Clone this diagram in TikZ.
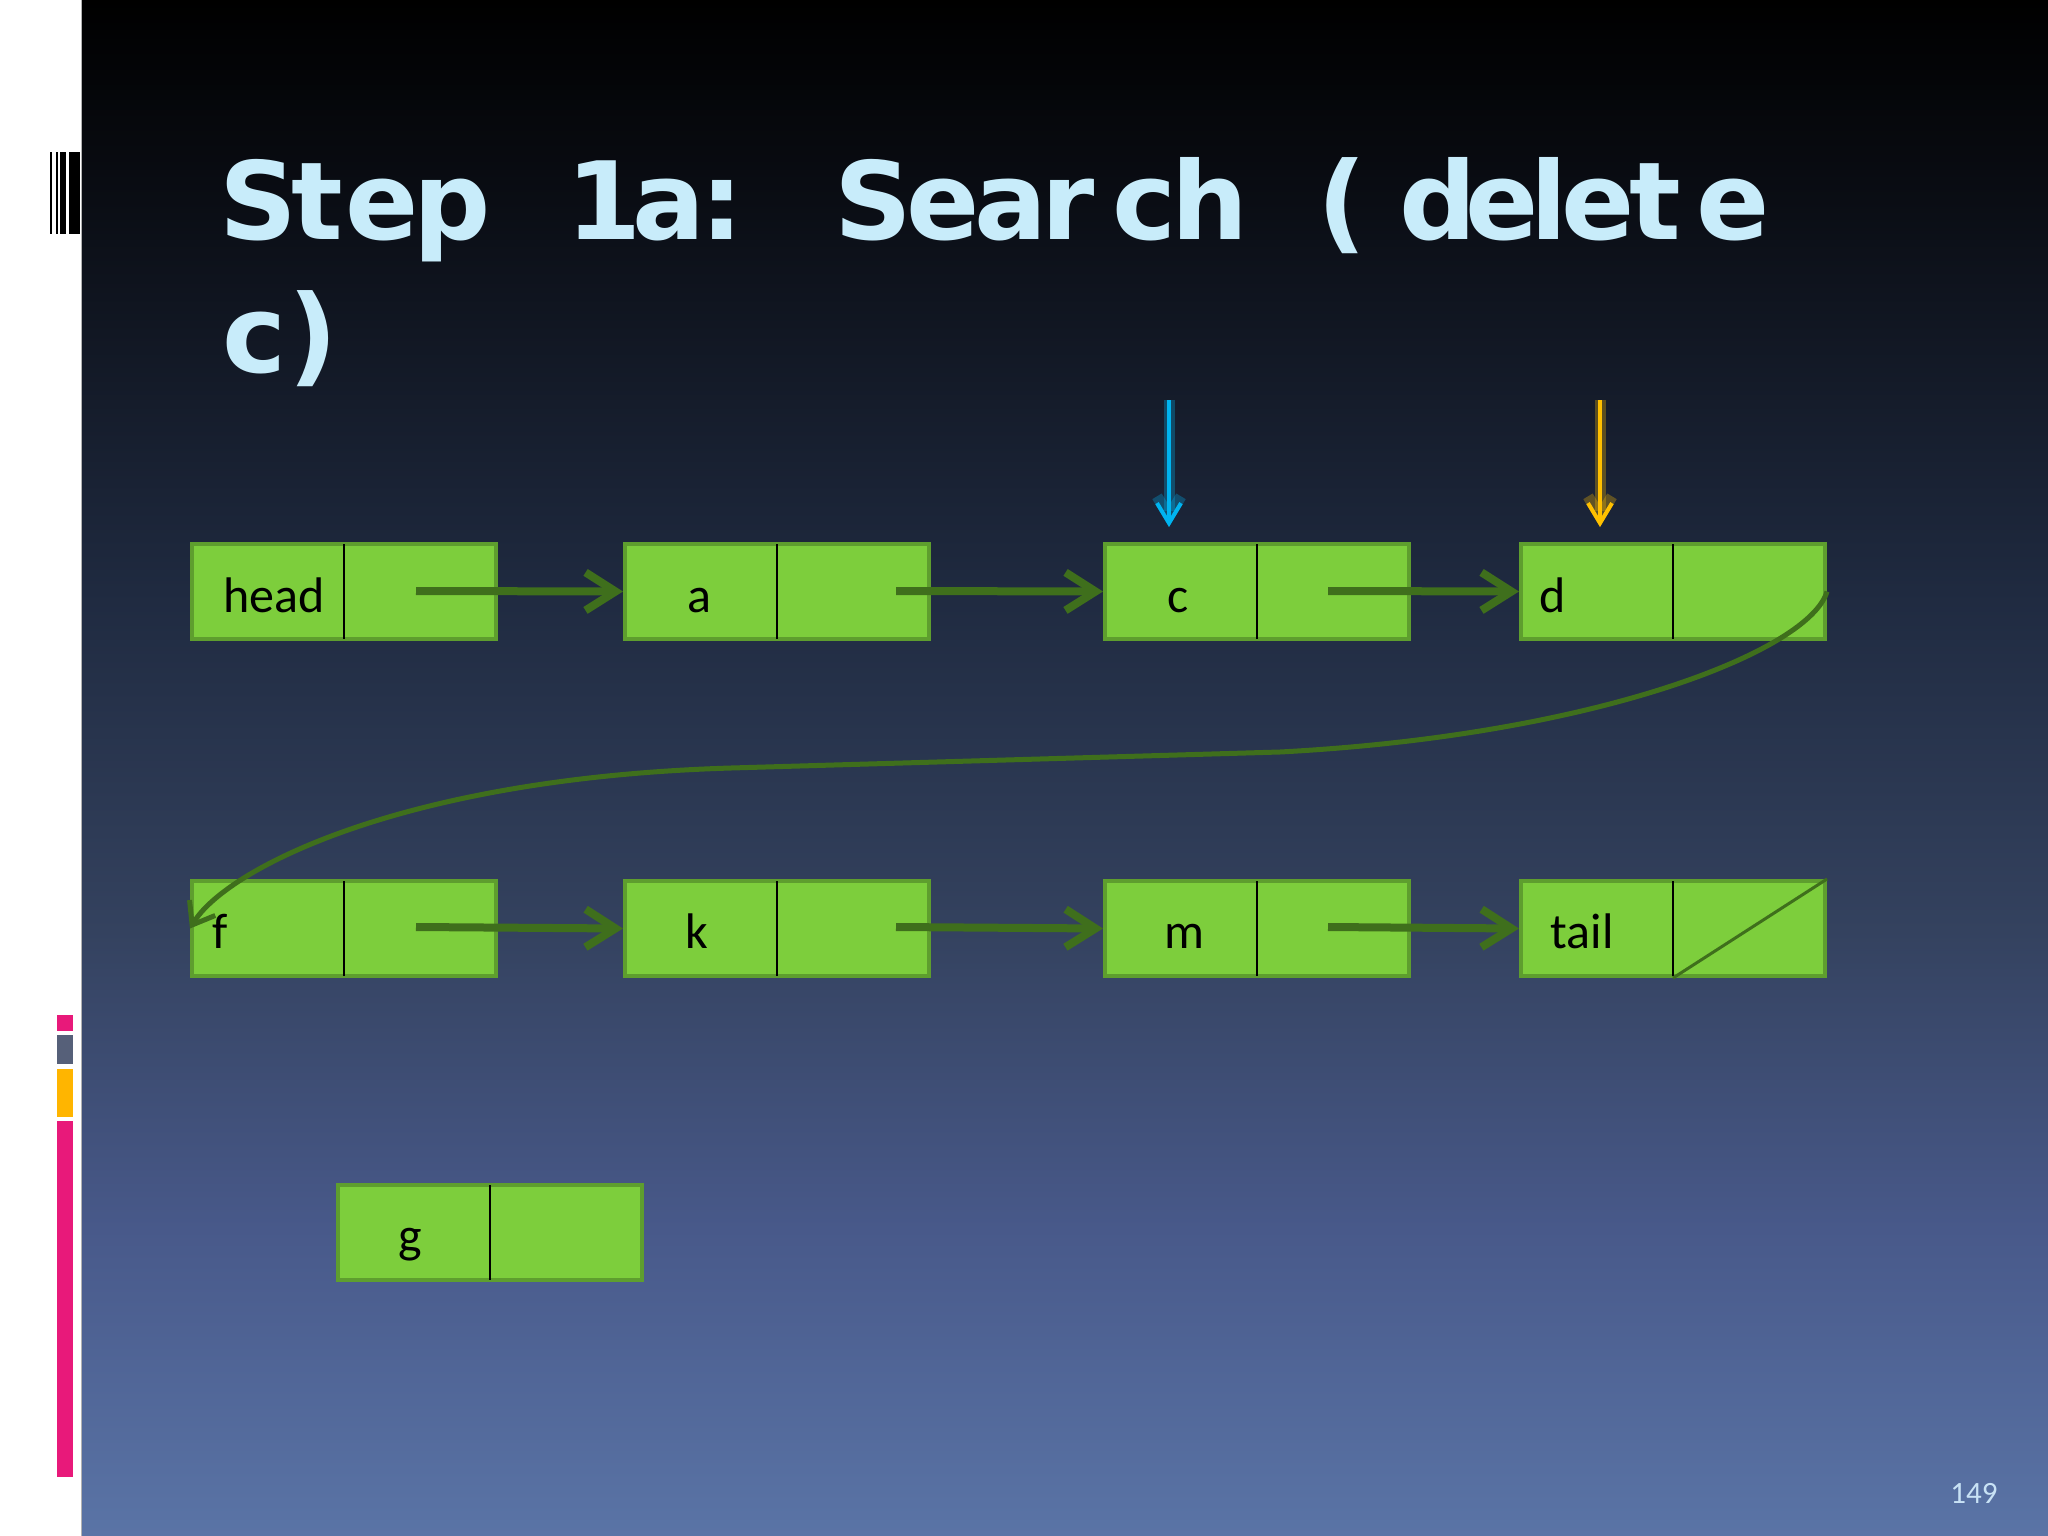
\documentclass[tikz,border=0pt]{standalone}
\usepackage{fontspec}
\usetikzlibrary{arrows.meta}
\newfontfamily\titlefont{DejaVu Sans Bold}[LetterSpace=-5]
\newfontfamily\boxfont{Carlito}
\definecolor{bgA}{HTML}{5A74A6}
\definecolor{bgB}{HTML}{48598A}
\definecolor{bgC}{HTML}{34425F}
\definecolor{bgD}{HTML}{1F2A40}
\definecolor{bgE}{HTML}{0A0D14}
\definecolor{bgF}{HTML}{000000}
\definecolor{boxfill}{HTML}{7DCE3C}
\definecolor{boxline}{HTML}{5E9E2E}
\definecolor{ptrgreen}{HTML}{3F6F1C}
\definecolor{titlecol}{HTML}{C8ECFA}
\definecolor{pagecol}{HTML}{C8E2F5}
\definecolor{cyanptr}{HTML}{00B4F0}
\definecolor{orangeptr}{HTML}{FFC000}
\definecolor{barpink}{HTML}{E8197A}
\definecolor{bargray}{HTML}{566079}
\definecolor{baryellow}{HTML}{FFB500}
\pgfdeclareverticalshading{slidebg}{100bp}{color(0bp)=(bgA); color(25bp)=(bgA); color(35bp)=(bgB); color(44.7bp)=(bgC); color(55.8bp)=(bgD); color(68.5bp)=(bgE); color(75bp)=(bgF); color(100bp)=(bgF)}
\begin{document}
\begin{tikzpicture}[x=1pt,y=-1pt,
  cell/.style={draw=boxline, fill=boxfill, line width=4pt, minimum width=304pt, minimum height=95pt, inner sep=0pt, anchor=north west},
  lbl/.style={font=\boxfont\fontsize{50}{60}\selectfont, text=black, inner sep=0pt, anchor=base},
  divider/.style={draw=black, line width=2.5pt, shorten <=2pt, shorten >=2pt},
  ptr/.style={draw=ptrgreen, line width=8pt, -{Straight Barb[length=30pt,width=38pt]}},
  curveptr/.style={draw=ptrgreen, line width=5pt, -{Straight Barb[length=20pt,width=30pt]}},
  glowptr/.style={line width=4pt, -{Straight Barb[length=20pt,width=24pt]}, shorten >=15pt},
  glowhalo/.style={line width=11pt, opacity=0.3, -{Straight Barb[length=20pt,width=24pt]}, shorten >=15pt},
  titletext/.style={font=\titlefont\fontsize{108}{130}\selectfont, text=titlecol, inner sep=0pt, anchor=base west}]
\useasboundingbox (0,0) rectangle (2048,1536);
% background
\fill[white] (0,0) rectangle (2048,1536);
\fill[shading=slidebg] (81,0) rectangle (2048,1536);
\draw[gray!60, line width=1pt] (81,0) -- (81,1536);
% left decorations
\fill[black] (50,152) rectangle (51.7,234);
\fill[black] (55.7,152) rectangle (58,234);
\fill[black] (60,152) rectangle (66.3,234);
\fill[black] (69.3,152) rectangle (79.7,234);
\fill[barpink] (57,1014.7) rectangle (73.3,1030.7);
\fill[bargray] (57,1035.3) rectangle (73.3,1063.7);
\fill[baryellow] (57,1068.7) rectangle (73.3,1116.7);
\fill[barpink] (57,1121.3) rectangle (73.3,1477.3);
% title
\node[titletext] (title1) at (219,239) {\makebox[126.7pt][l]{St}\makebox[220.3pt][l]{ep }\makebox[66.6pt][l]{1}\makebox[201.4pt][l]{a:  }\makebox[278.6pt][l]{Sear}\makebox[204.4pt][l]{ch }\makebox[82.6pt][l]{(}\makebox[161.4pt][l]{d\kern-12pt e\kern-8pt l}\makebox[135pt][l]{et}e};
\node[titletext] (title2) at (222,372) {\makebox[66pt][l]{c})};
% boxes
\node[cell] (head) at (190,542) {};
\node[cell] (a) at (623,542) {};
\node[cell] (c) at (1103,542) {};
\node[cell] (d) at (1519,542) {};
\node[cell] (f) at (190,879) {};
\node[cell] (k) at (623,879) {};
\node[cell] (m) at (1103,879) {};
\node[cell] (tail) at (1519,879) {};
\node[cell] (g) at (336,1183) {};
\foreach \n in {head,a,c,d,f,k,m,tail,g}{
  \draw[divider] (\n.north) -- (\n.south);
}
\draw[draw=ptrgreen, line width=3pt] (tail.south) -- (tail.north east);
% labels
\node[lbl] (headl) at (274,612) {head};
\node[lbl] (al) at (699,612) {a};
\node[lbl] (cl) at (1178,612) {c};
\node[lbl] (dl) at (1553,612) {d};
\node[lbl] (fl) at (220,948) {f};
\node[lbl] (kl) at (697,948) {k};
\node[lbl] (ml) at (1184,948) {m};
\node[lbl] (taill) at (1582,948) {tail};
\node[lbl] (gl) at (410,1252) {g};
% pointer starts
\coordinate (headp) at (416,591);
\coordinate (ap) at (896,591);
\coordinate (cp) at (1328,591);
\coordinate (fp) at (416,927);
\coordinate (kp) at (896,927);
\coordinate (mp) at (1328,927);
\draw[ptr] (headp) -- (a.west);
\draw[ptr] (ap) -- (c.west);
\draw[ptr] (cp) -- (d.west);
\draw[ptr] (fp) -- (k.west);
\draw[ptr] (kp) -- (m.west);
\draw[ptr] (mp) -- (tail.west);
% curved link d -> f
\coordinate (cv1) at (1280,752);
\coordinate (cv2) at (731,768);
\draw[curveptr] (d.east) .. controls (1810,650) and (1600,735) .. (cv1) -- (cv2) .. controls (400,778) and (225,870) .. (f.west);
% highlight pointers
\coordinate (cptr) at (1169,400);
\coordinate (dptr) at (1600,400);
\draw[glowhalo, cyanptr] (cptr) -- (cptr |- c.north);
\draw[glowptr, cyanptr] (cptr) -- (cptr |- c.north);
\draw[glowhalo, orangeptr] (dptr) -- (dptr |- d.north);
\draw[glowptr, orangeptr] (dptr) -- (dptr |- d.north);
% page number
\node[font=\boxfont\fontsize{31}{36}\selectfont, text=pagecol, inner sep=0pt] (pnum) at (1974,1493) {149};
\end{tikzpicture}
\end{document}
